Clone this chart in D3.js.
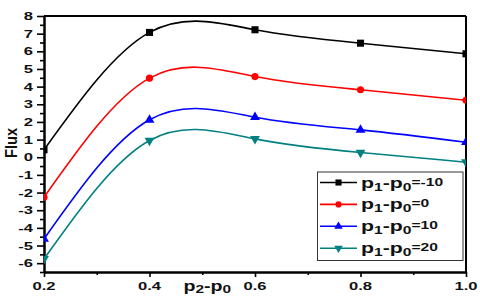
<!DOCTYPE html>
<html><head><meta charset="utf-8">
<script src="https://cdn.jsdelivr.net/npm/d3@7"></script>
<style>body{margin:0;background:#fff}svg{display:block}text{font-family:"Liberation Sans",Arial,sans-serif;font-weight:bold}</style>
</head><body>
<svg id="c" width="480" height="302"></svg>
<script>
const xValues = [0.2, 0.4, 0.6, 0.8, 1.0];
const seriesA = [0.42, 7.07, 7.22, 6.46, 5.86];   // p1-p0=-10
const seriesB = [-2.27, 4.48, 4.57, 3.82, 3.23];  // p1-p0=0
const seriesC = [-4.63, 2.12, 2.27, 1.55, 0.85];  // p1-p0=10
const seriesD = [-5.76, 0.95, 1.04, 0.27, -0.28]; // p1-p0=20
const legendValues = ["-10", "0", "10", "20"];
const xTickLabels = ["0.2", "0.4", "0.6", "0.8", "1.0"];
const yTickLabels = ["-6","-5","-4","-3","-2","-1","0","1","2","3","4","5","6","7","8"];

const colors = ["#000000", "#ff0000", "#0000ff", "#008080"];
const symbols = [d3.symbolSquare, d3.symbolCircle, d3.symbolTriangle, d3.symbolTriangle];
const symSize = [50, 40, 42, 42];
const symRot = [0, 0, 0, 180];
const allSeries = [seriesA, seriesB, seriesC, seriesD];

const L = 44, R = 466, T = 16, B = 272;
const svg = d3.select("#c");
const x = d3.scaleLinear().domain([0.2, 1.0]).range([L, R]);
const y = d3.scaleLinear().domain([-6.5, 8]).range([B, T]);

svg.append("clipPath").attr("id", "clip").append("rect")
  .attr("x", L).attr("y", T).attr("width", R - L).attr("height", B - T);

// frame top/right
svg.append("line").attr("x1", L).attr("x2", R).attr("y1", T).attr("y2", T).attr("stroke", "#000").attr("stroke-width", 2);
svg.append("line").attr("x1", R).attr("x2", R).attr("y1", T).attr("y2", B).attr("stroke", "#000").attr("stroke-width", 2);

// axes
const ax = svg.append("g").attr("transform", `translate(0,${B})`)
  .call(d3.axisBottom(x).tickValues(xTickLabels.map(Number)).tickSize(5).tickSizeOuter(0).tickFormat(""));
const axm = svg.append("g").attr("transform", `translate(0,${B})`)
  .call(d3.axisBottom(x).tickValues([0.3, 0.5, 0.7, 0.9]).tickSize(3).tickSizeOuter(0).tickFormat(""));
const ay = svg.append("g").attr("transform", `translate(${L},0)`)
  .call(d3.axisLeft(y).tickValues(yTickLabels.map(Number)).tickSize(7).tickSizeOuter(0).tickFormat(""));
const aym = svg.append("g").attr("transform", `translate(${L},0)`)
  .call(d3.axisLeft(y).tickValues(d3.range(-6.5, 8, 1)).tickSize(4).tickSizeOuter(0).tickFormat(""));
[ax, axm, ay, aym].forEach(g => {
  g.selectAll("path").attr("stroke", "#000").attr("stroke-width", 2);
  g.selectAll("line").attr("stroke", "#000").attr("stroke-width", 1.6);
});

// tick labels
const sx = 1.43;
svg.append("g").selectAll("text").data(xTickLabels).join("text")
  .attr("transform", d => `translate(${x(+d)},290) scale(${sx},1)`)
  .attr("text-anchor", "middle").attr("font-size", 11.6).attr("fill", "#111").text(d => d);
svg.append("g").selectAll("text").data(yTickLabels).join("text")
  .attr("transform", d => `translate(33,${y(+d) + 4.1}) scale(${sx},1)`)
  .attr("text-anchor", "end").attr("font-size", 11.6).attr("fill", "#111").text(d => d);

// axis titles
const xt = svg.append("text").attr("transform", "translate(183.5,290.5) scale(1.4,1)")
  .attr("font-size", 14).attr("fill", "#111");
xt.append("tspan").text("p");
xt.append("tspan").attr("font-size", 11).attr("dy", 2.5).text("2");
xt.append("tspan").attr("dy", -2.5).text("-");
xt.append("tspan").text("p");
xt.append("tspan").attr("font-size", 11).attr("dy", 2.5).text("0");

svg.append("text").attr("transform", "translate(16.5,158) scale(1.3,1) rotate(-90)")
  .attr("font-size", 12.5).attr("fill", "#111").attr("textLength", 30).attr("lengthAdjust", "spacingAndGlyphs").text("Flux");

// curves
const plot = svg.append("g").attr("clip-path", "url(#clip)");
const line = d3.line().x(d => x(d[0])).y(d => y(d[1])).curve(d3.curveNatural);
allSeries.forEach((s, i) => {
  const pts = xValues.map((xv, j) => [xv, s[j]]);
  plot.append("path").datum(pts).attr("d", line).attr("fill", "none")
    .attr("stroke", colors[i]).attr("stroke-width", 1.6);
  plot.append("g").selectAll("path").data(pts).join("path")
    .attr("d", d3.symbol().type(symbols[i]).size(symSize[i]))
    .attr("transform", d => `translate(${x(d[0])},${y(d[1])}) rotate(${symRot[i]})`)
    .attr("fill", colors[i]);
});

// legend
const lg = svg.append("g");
lg.append("rect").attr("x", 317.5).attr("y", 172).attr("width", 145.5).attr("height", 88.5)
  .attr("fill", "#fff").attr("stroke", "#333").attr("stroke-width", 1);
legendValues.forEach((v, i) => {
  const cy = 182.5 + i * 21.9;
  lg.append("line").attr("x1", 320).attr("x2", 357).attr("y1", cy).attr("y2", cy)
    .attr("stroke", colors[i]).attr("stroke-width", 1.6);
  lg.append("path").attr("d", d3.symbol().type(symbols[i]).size(symSize[i] * 0.75))
    .attr("transform", `translate(338.5,${cy}) rotate(${symRot[i]})`).attr("fill", colors[i]);
  const t = lg.append("text").attr("transform", `translate(361,${cy + 5}) scale(1.42,1)`)
    .attr("font-size", 15).attr("fill", "#111");
  t.append("tspan").text("p");
  t.append("tspan").attr("font-size", 11).attr("dy", 3).text("1");
  t.append("tspan").attr("dy", -3).text("-");
  t.append("tspan").text("p");
  t.append("tspan").attr("font-size", 11).attr("dy", 3).text("0");
  t.append("tspan").attr("font-size", 11).attr("dy", -5).text("=" + v);
});
</script>
</body></html>
